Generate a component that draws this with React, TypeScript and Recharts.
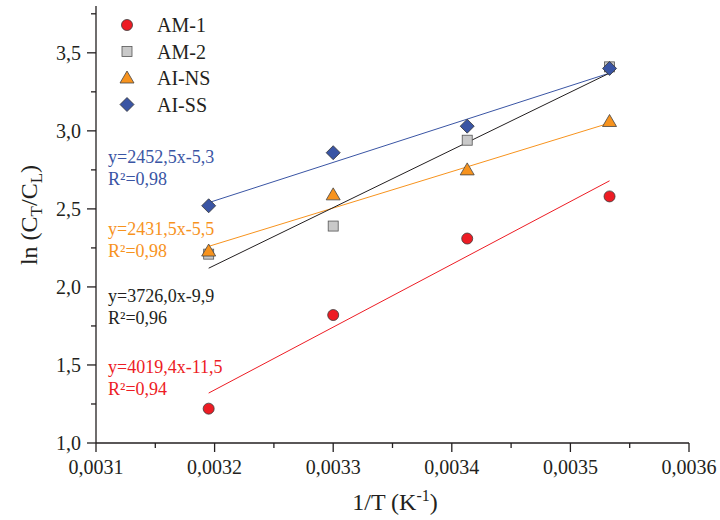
import { Scatter, ScatterChart, XAxis, YAxis } from 'recharts'

// 1/T values of the four temperatures
const xValues = [0.003195, 0.0033, 0.003413, 0.003533]

const am1 = [1.22, 1.82, 2.31, 2.58]
const am2 = [2.21, 2.39, 2.94, 3.41]
const aiNs = [2.23, 2.59, 2.75, 3.06]
const aiSs = [2.52, 2.86, 3.03, 3.4]

// linear fits, read at both ends
const fitX = [0.003195, 0.003533]
const am1Fit = [1.32, 2.68]
const am2Fit = [2.12, 3.37]
const aiNsFit = [2.26, 3.05]
const aiSsFit = [2.54, 3.37]

const xTicks = [
  0.0031, 0.00315, 0.0032, 0.00325, 0.0033, 0.00335, 0.0034, 0.00345, 0.0035, 0.00355, 0.0036,
]
const yTicks = [1, 1.25, 1.5, 1.75, 2, 2.25, 2.5, 2.75, 3, 3.25, 3.5, 3.75]

const seriesNames = ['AM-1', 'AM-2', 'AI-NS', 'AI-SS']
const equations = ['y=2452,5x-5,3', 'y=2431,5x-5,5', 'y=3726,0x-9,9', 'y=4019,4x-11,5']
const r2Labels = ['R²=0,98', 'R²=0,98', 'R²=0,96', 'R²=0,94']

const AXIS = '#231f20'
const RED = '#ed1c24'
const GRAY = '#c9c9c9'
const ORANGE = '#f7931e'
const BLUE = '#3a55a4'
const FONT = '"Liberation Serif", "Times New Roman", serif'

const toPoints = (xs: number[], ys: number[]) => xs.map((x, i) => ({ x, y: ys[i] }))

type ShapeProps = { cx?: number; cy?: number }

const Circle = ({ cx = 0, cy = 0 }: ShapeProps) => (
  <circle cx={cx} cy={cy} r={5.5} fill={RED} stroke="#3a3a3a" strokeWidth={0.8} />
)
const Square = ({ cx = 0, cy = 0 }: ShapeProps) => (
  <rect x={cx - 5} y={cy - 5} width={10} height={10} fill={GRAY} stroke="#555" strokeWidth={0.8} />
)
const Triangle = ({ cx = 0, cy = 0 }: ShapeProps) => (
  <polygon
    points={`${cx},${cy - 7} ${cx - 7},${cy + 5} ${cx + 7},${cy + 5}`}
    fill={ORANGE}
    stroke="#444"
    strokeWidth={0.8}
  />
)
const Diamond = ({ cx = 0, cy = 0 }: ShapeProps) => (
  <polygon
    points={`${cx},${cy - 7} ${cx + 7},${cy} ${cx},${cy + 7} ${cx - 7},${cy}`}
    fill={BLUE}
    stroke="#333"
    strokeWidth={0.8}
  />
)
const NoShape = () => <g />

const markers = [Circle, Square, Triangle, Diamond]
const eqColors = [BLUE, ORANGE, AXIS, RED]

function XTick(props: any) {
  const { x, y, payload } = props
  const major = Math.round(payload.value * 1e5) % 10 === 0
  return (
    <g>
      <line x1={x} x2={x} y1={y} y2={y + (major ? 9 : 5)} stroke={AXIS} strokeWidth={1.3} />
      {major && (
        <text x={x} y={y + 31} textAnchor="middle" fontSize={20} fontFamily={FONT} fill={AXIS}>
          {payload.value.toFixed(4).replace('.', ',')}
        </text>
      )}
    </g>
  )
}

function YTick(props: any) {
  const { x, y, payload } = props
  const major = Math.round(payload.value * 4) % 2 === 0
  return (
    <g>
      <line x1={x - (major ? 9 : 5)} x2={x} y1={y} y2={y} stroke={AXIS} strokeWidth={1.3} />
      {major && (
        <text x={x - 15} y={y + 7} textAnchor="end" fontSize={20} fontFamily={FONT} fill={AXIS}>
          {payload.value.toFixed(1).replace('.', ',')}
        </text>
      )}
    </g>
  )
}

export default function App() {
  return (
    <div style={{ position: 'absolute', left: 0, top: 0, width: 720, height: 520, background: '#fff' }}>
      <ScatterChart width={720} height={520} margin={{ top: 6, right: 31, left: 0, bottom: 0 }}>
        <XAxis
          type="number"
          dataKey="x"
          domain={[0.0031, 0.0036]}
          ticks={xTicks}
          interval={0}
          allowDataOverflow
          height={77}
          tickSize={0}
          tickMargin={0}
          tick={<XTick />}
          stroke={AXIS}
          strokeWidth={1.3}
        />
        <XAxis
          xAxisId="top"
          orientation="top"
          type="number"
          domain={[0.0031, 0.0036]}
          ticks={xTicks}
          interval={0}
          allowDataOverflow
          height={0}
          tickSize={3}
          tick={false}
          stroke={AXIS}
          strokeWidth={1.3}
        />
        <YAxis
          type="number"
          dataKey="y"
          domain={[1, 3.8]}
          ticks={yTicks}
          interval={0}
          allowDataOverflow
          width={96}
          tickSize={0}
          tickMargin={0}
          tick={<YTick />}
          stroke={AXIS}
          strokeWidth={1.3}
        />
        <YAxis
          yAxisId="right"
          orientation="right"
          type="number"
          domain={[1, 3.8]}
          ticks={yTicks}
          interval={0}
          allowDataOverflow
          width={0}
          tickSize={3}
          tick={false}
          stroke={AXIS}
          strokeWidth={1.3}
        />

        <Scatter data={toPoints(fitX, aiSsFit)} line={{ stroke: BLUE, strokeWidth: 1 }} shape={NoShape} isAnimationActive={false} />
        <Scatter data={toPoints(fitX, aiNsFit)} line={{ stroke: ORANGE, strokeWidth: 1 }} shape={NoShape} isAnimationActive={false} />
        <Scatter data={toPoints(fitX, am2Fit)} line={{ stroke: AXIS, strokeWidth: 1 }} shape={NoShape} isAnimationActive={false} />
        <Scatter data={toPoints(fitX, am1Fit)} line={{ stroke: RED, strokeWidth: 1 }} shape={NoShape} isAnimationActive={false} />

        <Scatter name="AM-1" data={toPoints(xValues, am1)} shape={Circle} isAnimationActive={false} />
        <Scatter name="AM-2" data={toPoints(xValues, am2)} shape={Square} isAnimationActive={false} />
        <Scatter name="AI-NS" data={toPoints(xValues, aiNs)} shape={Triangle} isAnimationActive={false} />
        <Scatter name="AI-SS" data={toPoints(xValues, aiSs)} shape={Diamond} isAnimationActive={false} />
      </ScatterChart>

      <svg
        width={720}
        height={520}
        style={{ position: 'absolute', left: 0, top: 0, pointerEvents: 'none' }}
        fontFamily={FONT}
      >
        {seriesNames.map((name, i) => {
          const Marker = markers[i]
          const cy = 25 + i * 26.5
          return (
            <g key={name}>
              <Marker cx={127} cy={cy} />
              <text x={157} y={cy + 7} fontSize={20} fill={AXIS}>
                {name}
              </text>
            </g>
          )
        })}

        {equations.map((eq, i) => {
          const base = [163, 235, 302, 373][i]
          return (
            <g key={eq} fill={eqColors[i]} fontSize={18}>
              <text x={108} y={base}>{eq}</text>
              <text x={108} y={base + 22}>{r2Labels[i]}</text>
            </g>
          )
        })}

        <text transform="translate(37,215) rotate(-90)" textAnchor="middle" fontSize={24} fill={AXIS}>
          ln (C
          <tspan dy={5} fontSize={17}>T</tspan>
          <tspan dy={-5}>/C</tspan>
          <tspan dy={5} fontSize={17}>L</tspan>
          <tspan dy={-5}>)</tspan>
        </text>

        <text x={395} y={510} textAnchor="middle" fontSize={24} fill={AXIS}>
          1/T (K
          <tspan dy={-9} fontSize={16}>-1</tspan>
          <tspan dy={9}>)</tspan>
        </text>
      </svg>
    </div>
  )
}
